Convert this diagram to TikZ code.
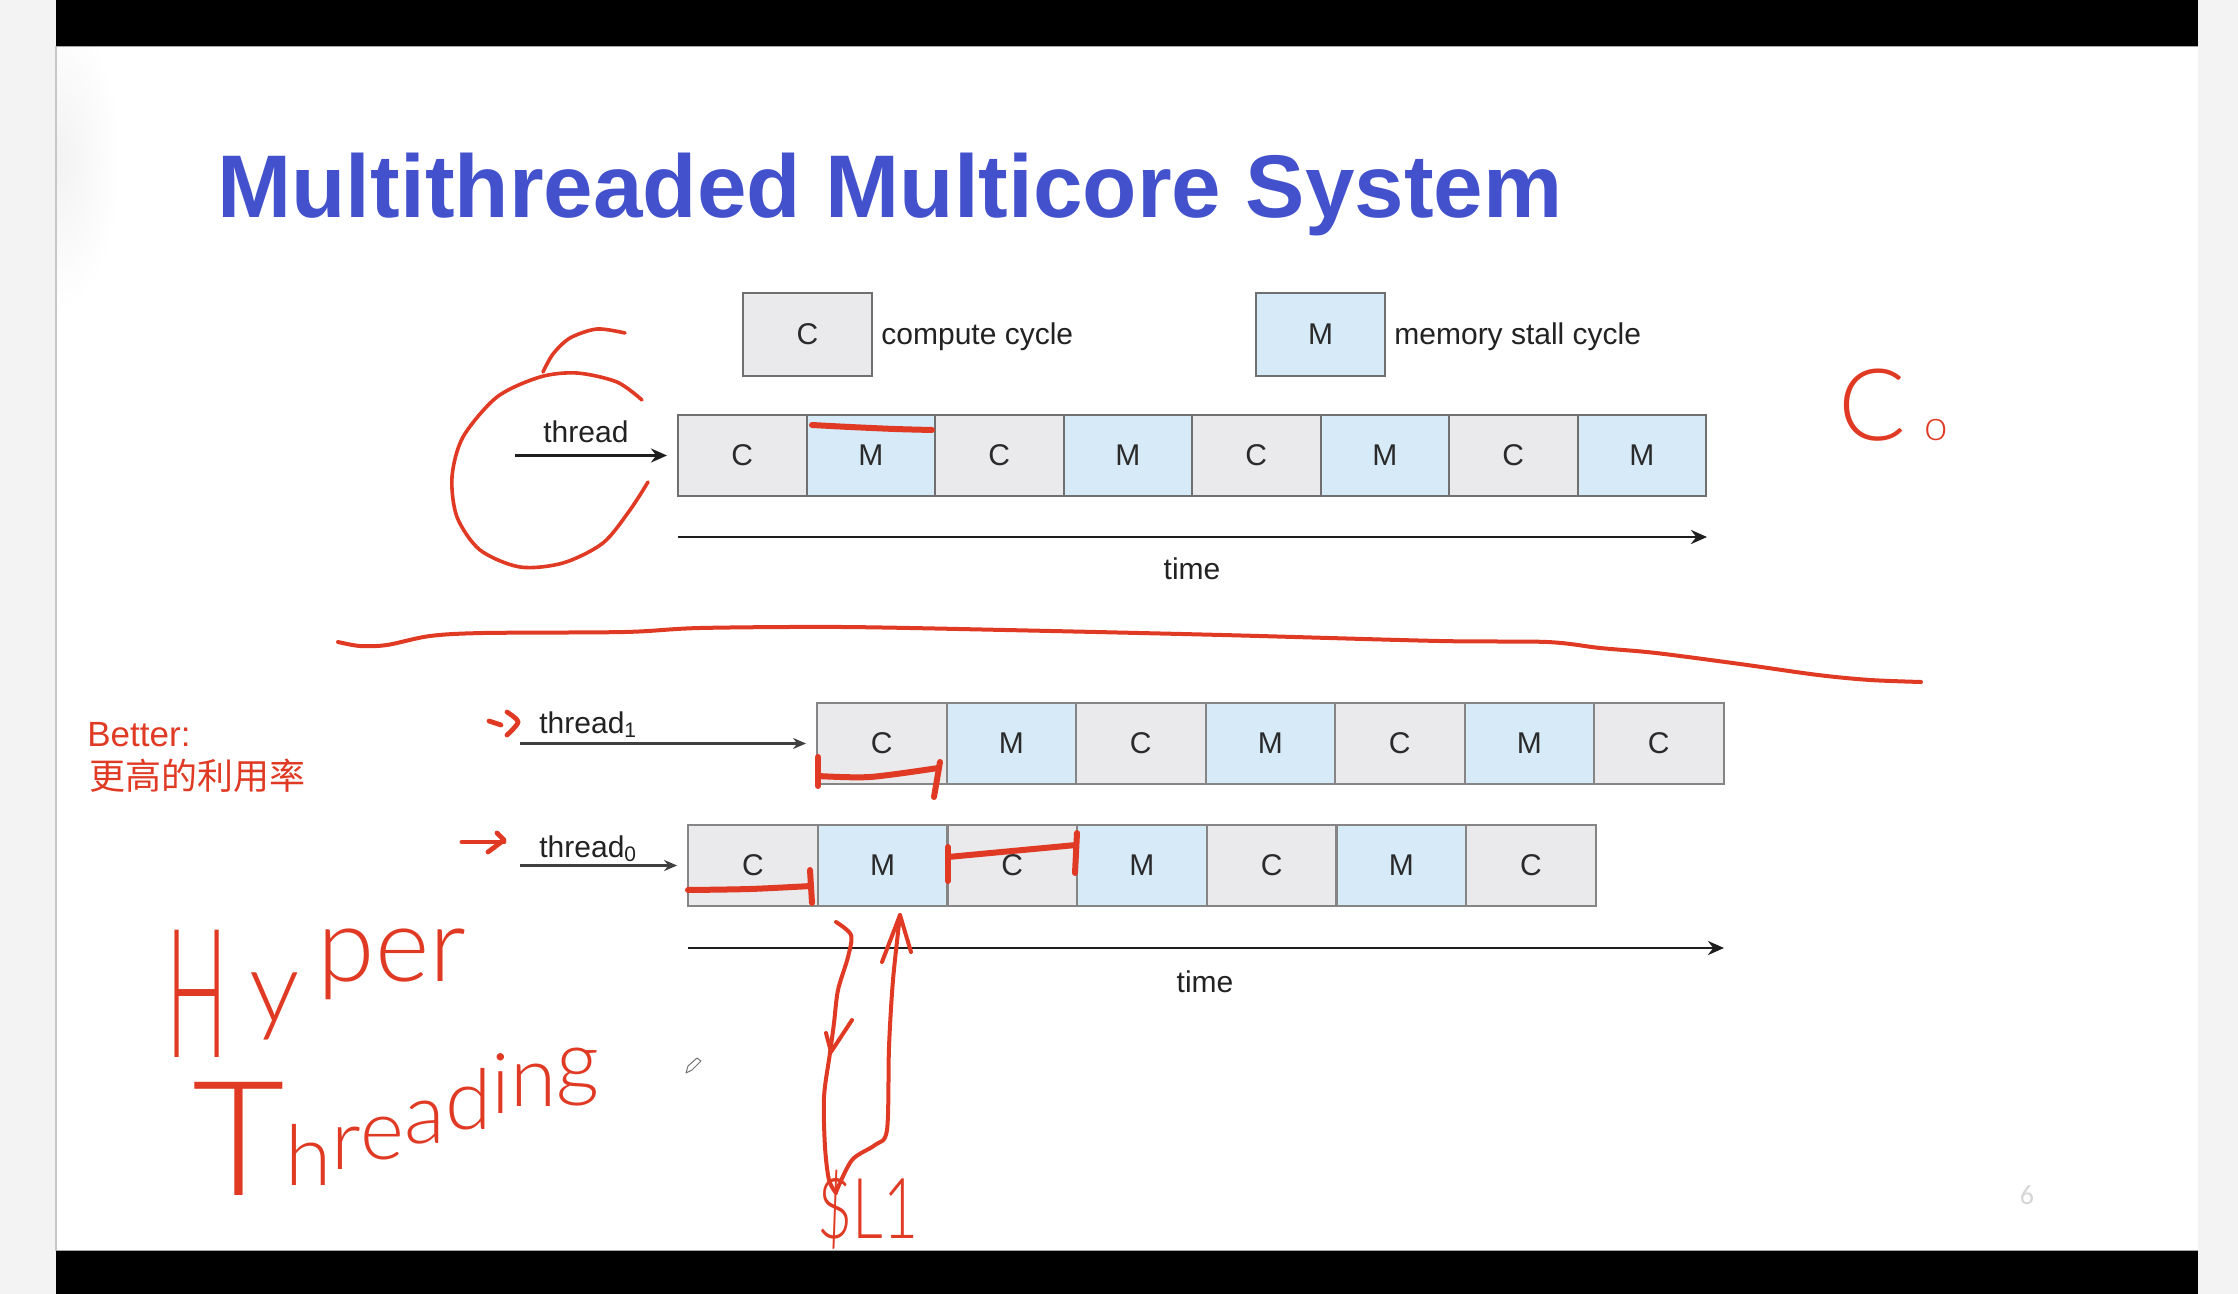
\documentclass[tikz,border=0pt]{standalone}
\usepackage{fontspec}
\setmainfont{Liberation Sans}
\newfontfamily\cjk{Noto Sans CJK SC}
\newfontfamily\pagenumfont{Carlito}
\IfFontExistsTF{Lato Light}{\newfontfamily\hand{Lato Light}}{%
  \IfFontExistsTF{Fira Sans Light}{\newfontfamily\hand{Fira Sans Light}}{%
    \IfFontExistsTF{DejaVu Sans ExtraLight}{\newfontfamily\hand{DejaVu Sans ExtraLight}}{%
      \newfontfamily\hand{Fira Sans}}}}
\usetikzlibrary{arrows.meta}
\definecolor{bggray}{HTML}{F3F3F3}
\definecolor{titleblue}{HTML}{4352CC}
\definecolor{fillC}{HTML}{EAEAED}
\definecolor{fillM}{HTML}{D6EAF7}
\definecolor{cellborder}{HTML}{707070}
\definecolor{cellborder2}{HTML}{858585}
\definecolor{celltext}{HTML}{2A2A2A}
\definecolor{labeltext}{HTML}{222222}
\definecolor{arrowcol}{HTML}{1E1E1E}
\definecolor{inkred}{HTML}{E03A24}
\definecolor{pagegray}{HTML}{D6D6D6}
\begin{document}
\begin{tikzpicture}[x=0.5pt,y=-0.5pt,
  cell/.style={draw=cellborder, line width=1pt, minimum width=64.25pt, minimum height=40.5pt, inner sep=0pt, font=\fontsize{15}{18}\selectfont, text=celltext},
  lcell/.style={cell, minimum width=64.75pt, draw=cellborder2},
  arr/.style={line width=1.4pt, draw=arrowcol, -{Stealth[length=8pt,width=7pt]}},
  arrsmall/.style={line width=1.2pt, draw=arrowcol!85!white, -{Stealth[length=6.5pt,width=5.5pt]}},
  lbl/.style={font=\fontsize{15}{18}\selectfont, inner sep=0pt, text=labeltext},
  redink/.style={draw=inkred, line cap=round, line join=round},
  handtext/.style={text=inkred, inner sep=0pt},
]
\useasboundingbox (0,0) rectangle (2238,1294);
% slide background
\fill[bggray] (0,0) rectangle (2238,1294);
\fill[white] (56,46) rectangle (2198,1251);
\begin{scope}
  \clip (57,47) rectangle (400,600);
  \shade[inner color=black!5, outer color=white] (57,160) ellipse [x radius=65, y radius=150];
\end{scope}
\fill[black] (56,0) rectangle (2198,46);
\fill[black] (56,1251) rectangle (2198,1294);
\draw[black!22, line width=0.8pt] (56,46) -- (56,1251);
\draw[black!35, line width=0.6pt] (56,46.6) -- (2198,46.6);
\draw[black!35, line width=0.6pt] (56,1250.4) -- (2198,1250.4);

% title
\node[anchor=base west, inner sep=0pt, text=titleblue, font=\bfseries\fontsize{44.5}{50}\selectfont] (title) at (217,218) {Multithreaded Multicore System};

% legend
\node[cell, fill=fillC, minimum width=64.5pt, minimum height=41.5pt] (legC) at (807.5,334.5) {C};
\node[lbl, anchor=base west] (legCtext) at (881,345) {compute cycle};
\node[cell, fill=fillM, minimum width=64.5pt, minimum height=41.5pt] (legM) at (1320.5,334.5) {M};
\node[lbl, anchor=base west] (legMtext) at (1394,345) {memory stall cycle};

% single thread row
\foreach \i/\lt in {1/C,2/M,3/C,4/M,5/C,6/M,7/C,8/M}
  \node[cell, fill=fill\lt] (t\i) at ({742.25+(\i-1)*128.5},455.5) {\lt};
\coordinate (tstart) at (515,455.5);
\draw[arr, shorten >=5pt] (tstart) -- (t1.west);
\node[lbl, anchor=base west] (tlabel) at (543,443) {thread};
\coordinate (timeAs) at (678,537);
\coordinate (timeAe) at (1707,537);
\draw[arr] (timeAs) -- (timeAe);
\node[lbl] (timeA) at (1192,569) {time};

% two thread rows
\foreach \i/\lt in {1/C,2/M,3/C,4/M,5/C,6/M,7/C}
  \node[lcell, fill=fill\lt] (a\i) at ({817+64.75+(\i-1)*129.5},743.5) {\lt};
\foreach \i/\lt in {1/C,2/M,3/C,4/M,5/C,6/M,7/C}
  \node[lcell, fill=fill\lt] (b\i) at ({688+64.85+(\i-1)*129.7},865.5) {\lt};
\coordinate (astart) at (520,743.5);
\draw[arrsmall, shorten >=5pt] (astart) -- (a1.west);
\node[lbl, anchor=base west] (alabel) at (539,733) {thread\textsubscript{1}};
\coordinate (bstart) at (520,865.5);
\draw[arrsmall, shorten >=5pt] (bstart) -- (b1.west);
\node[lbl, anchor=base west] (blabel) at (539,857) {thread\textsubscript{0}};
\coordinate (timeBs) at (688,948);
\coordinate (timeBe) at (1724,948);
\draw[arr, line width=1.3pt] (timeBs) -- (timeBe);
\node[lbl] (timeB) at (1205,982) {time};

% page number
\node[text=pagegray, inner sep=0pt, font=\pagenumfont\fontsize{14}{16}\selectfont] (pnum) at (2027,1195) {6};

% ---- red annotations ----
\node[handtext, anchor=base west, font=\fontsize{17.5}{20}\selectfont] (better) at (87,746) {Better:};
\node[handtext, anchor=base west, font=\cjk\fontsize{18}{20}\selectfont] (cn) at (89,789) {更高的利用率};

% circle around thread
\draw[redink, line width=1.8pt] plot[smooth] coordinates {(543,372) (553,354) (570,338) (597,329) (625,333)};
\draw[redink, line width=1.8pt] plot[smooth] coordinates {(642,400) (617,382) (577,373) (540,377) (497,397) (463,437) (452,477) (457,517) (480,550) (520,567) (563,563) (603,543) (630,510) (648,482)};
% underline on M
\draw[redink, line width=3pt] plot[smooth] coordinates {(812,425) (850,427) (895,429) (932,430)};
% long separating line
\draw[redink, line width=2pt] plot[smooth] coordinates {(338,642) (360,646) (387,645) (430,636) (484,633) (625,632) (700,628) (842,627) (1005,630) (1222,635) (1439,641) (1547,642) (1600,648) (1656,653) (1740,664) (1818,675) (1870,680) (1921,682)};
% Co
\node[handtext, anchor=base west, font=\hand\fontsize{50}{55}\selectfont] (co) at (1838,441) {C\hspace{9pt}{\fontsize{21}{21}\selectfont o}};
% small arrows at thread labels
\draw[redink, line width=2.4pt] (489,721) -- (501,725);
\draw[redink, line width=2.4pt] plot[smooth] coordinates {(507,712) (518,722) (507,735)};
\draw[redink, line width=2.4pt] (462,842) -- (504,842);
\draw[redink, line width=2.4pt] plot coordinates {(497,833) (504,840) (488,852)};
% brackets
\draw[redink, line width=3pt] (818,757) -- (818,786);
\draw[redink, line width=3pt] plot[smooth] coordinates {(818,776) (870,777) (938,768)};
\draw[redink, line width=3pt] (940,762) -- (934,797);
\draw[redink, line width=3pt] plot[smooth] coordinates {(688,890) (750,889) (811,886)};
\draw[redink, line width=3pt] (810,870) -- (812,903);
\draw[redink, line width=3pt] (948,847) -- (948,881);
\draw[redink, line width=3pt] (948,857) -- (1076,845);
\draw[redink, line width=3pt] (1077,833) -- (1075,873);
% arrows to L1
\draw[redink, line width=2pt] plot[smooth] coordinates {(836,922) (851,935) (848,957) (838,990) (834,1023) (830,1053) (824,1097) (825,1147) (829,1180) (836,1193)};
\draw[redink, line width=2pt] plot coordinates {(826,1033) (831,1052) (852,1020)};
\draw[redink, line width=2pt] plot[smooth] coordinates {(836,1192) (852,1160) (875,1145) (887,1130) (889,1047) (893,980) (900,915)};
\draw[redink, line width=2pt] plot coordinates {(882,962) (900,915) (911,952)};
\node[handtext, anchor=base, font=\hand\fontsize{42}{46}\selectfont] (lone) at (868,1238) {\scalebox{0.72}[1]{\$L1}};
% Hyper Threading (upright letters on a rising baseline, as handwritten)
\node[handtext, anchor=base west, font=\hand\fontsize{50}{50}\selectfont] (hyper) at (166,1057)
  {\scalebox{0.45}[1]{\fontsize{90}{90}\selectfont H}\hspace{11pt}\raisebox{17.5pt}{y}\hspace{9pt}\raisebox{38pt}{\fontsize{52}{52}\selectfont per}};
\node[handtext, anchor=base west, font=\hand\fontsize{42}{42}\selectfont] (threading) at (192,1195)
  {{\fontsize{80}{80}\selectfont T}\raisebox{5pt}{h}\raisebox{13pt}{r}\raisebox{18pt}{e}\raisebox{25.8pt}{a}\raisebox{32.9pt}{d}\raisebox{41pt}{i}\raisebox{44.3pt}{n}\raisebox{52.3pt}{g}};
% pencil cursor
\draw[black!55, line width=0.5pt, line join=round] (686,1073) -- (688,1066) -- (697,1058) -- (701,1061) -- (692,1070) -- cycle;
\end{tikzpicture}
\end{document}
